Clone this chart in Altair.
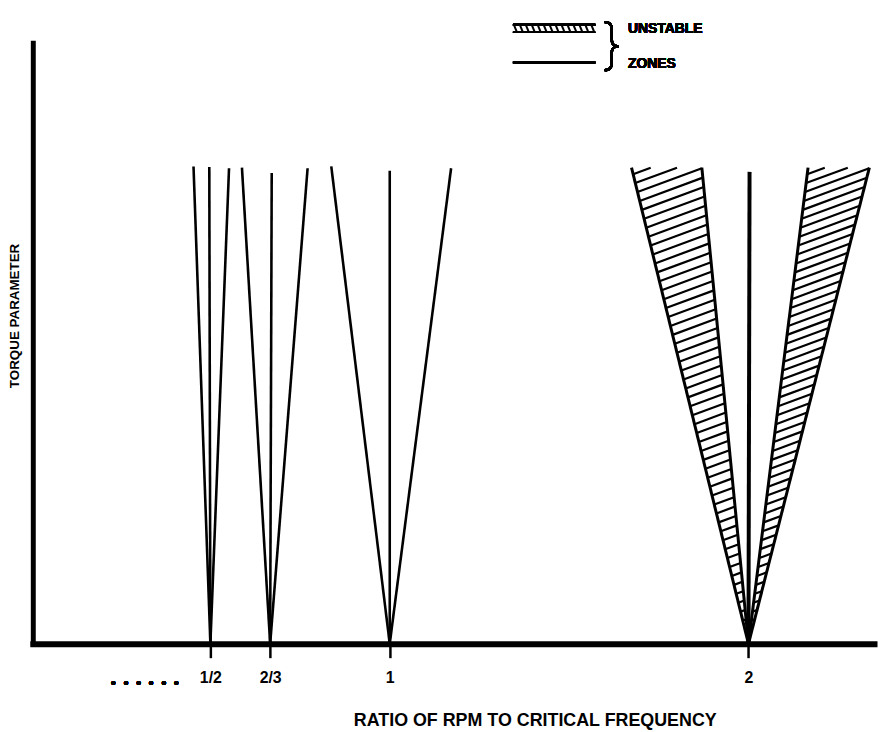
import altair as alt
import pandas as pd
import numpy as np

# ---------------- data ----------------
tick_values = [0.5, 2 / 3, 1.0, 2.0]
tick_labels = ["1/2", "2/3", "1", "2"]

# boundary lines of the instability zones: each starts at its apex on the axis
line_apex_x = [0.5, 0.5, 0.5, 2 / 3, 2 / 3, 2 / 3, 1.0, 1.0, 1.0, 2.0]
line_top_x = [0.453, 0.497, 0.552, 0.588, 0.671, 0.771, 0.837, 1.0, 1.171, 2.003]
line_top_y = [0.794, 0.793, 0.791, 0.792, 0.783, 0.791, 0.794, 0.787, 0.791, 0.785]

# hatched unstable wedges around ratio 2
wedge_apex_x = 2.0
wedge_left_top_x = [1.674, 2.166]
wedge_right_top_x = [1.870, 2.337]
wedge_top_y = 0.792

# ---------------- layout ----------------
X_MIN, X_MAX = 0.005, 2.35
W, H = 848, 606
PX_X = W / (X_MAX - X_MIN)
PX_Y = H / 1.0
FONT = "Liberation Sans"

lines = pd.DataFrame({
    "x": line_apex_x, "y": [0.0] * len(line_apex_x),
    "x2": line_top_x, "y2": line_top_y,
    "w": [2.6] * 9 + [4.0],
})
edges = pd.DataFrame({
    "x": [wedge_apex_x] * 4, "y": [0.0] * 4,
    "x2": wedge_left_top_x + wedge_right_top_x,
    "y2": [wedge_top_y] * 4,
    "w": [3.0] * 4,
})
lines = pd.concat([lines, edges], ignore_index=True)

# hatch strokes clipped to each wedge (derived from the wedge geometry)
hatch_slope_px = 0.37          # rise / run of hatch strokes in pixels
hatch_gap_px = 9.0             # vertical gap of strokes along the left edge
k = hatch_slope_px * PX_X / PX_Y
rows = []
for xl, xr in zip(wedge_left_top_x, wedge_right_top_x):
    al = (xl - wedge_apex_x) / wedge_top_y
    ar = (xr - wedge_apex_x) / wedge_top_y
    dc = (hatch_gap_px / PX_Y) * (1 - k * al)
    c = dc * 0.6
    while True:
        yl = c / (1 - k * al)
        if yl >= wedge_top_y:
            break
        yr = c / (1 - k * ar)
        x1 = wedge_apex_x + al * yl
        if yr <= wedge_top_y:
            x2, y2 = wedge_apex_x + ar * yr, yr
        else:
            y2 = wedge_top_y
            x2 = wedge_apex_x + (y2 - c) / k
        rows.append({"x": x1, "y": yl, "x2": x2, "y2": y2})
        c += dc
hatch = pd.DataFrame(rows)

xscale = alt.Scale(domain=[X_MIN, X_MAX], nice=False, zero=False)
yscale = alt.Scale(domain=[0, 1], nice=False, zero=False)

label_expr = " : ".join(
    f"abs(datum.value - {v}) < 0.001 ? '{t}'" for v, t in zip(tick_values, tick_labels)
) + " : ''"

x_axis = alt.Axis(
    values=tick_values, labelExpr=label_expr, grid=False,
    domainColor="black", domainWidth=6, domainCap="square",
    tickColor="black", tickWidth=2.5, tickSize=14,
    labelFont=FONT, labelFontWeight="bold", labelFontSize=16, labelColor="black",
    labelPadding=12,
    title="RATIO OF RPM TO CRITICAL FREQUENCY",
    titleFont=FONT, titleFontWeight="bold", titleFontSize=18, titleColor="black",
    titleX=506, titleY=82, titleAnchor="middle", titleAlign="center",
    titleBaseline="alphabetic",
)
y_axis = alt.Axis(
    grid=False, ticks=False, labels=False,
    domainColor="black", domainWidth=5, domainCap="square",
    title="TORQUE PARAMETER",
    titleFont=FONT, titleFontWeight="bold", titleFontSize=13.5, titleColor="black",
    titleX=-18, titleY=275, titleAngle=-90, titleAlign="center",
    titleBaseline="middle",
)

base_lines = alt.Chart(lines).mark_rule(color="black", strokeCap="butt").encode(
    x=alt.X("x:Q", scale=xscale, axis=x_axis),
    y=alt.Y("y:Q", scale=yscale, axis=y_axis),
    x2="x2:Q", y2="y2:Q",
    strokeWidth=alt.StrokeWidth("w:Q", scale=None),
)

hatch_layer = alt.Chart(hatch).mark_rule(color="black", strokeWidth=2.2).encode(
    x=alt.X("x:Q", scale=xscale), y=alt.Y("y:Q", scale=yscale),
    x2="x2:Q", y2="y2:Q",
)

# ---------------- legend (pixel positions relative to plot) ----------------
leg_x0, leg_x1 = 484, 567
n_strokes = 14
stroke_x = list(np.linspace(leg_x0 + 1, leg_x1 - 4, n_strokes))
leg_strokes = pd.DataFrame({
    "x": stroke_x, "x2": [v + 3 for v in stroke_x],
    "y": [-18.0] * n_strokes, "y2": [-10.5] * n_strokes,
})
leg_hatch = alt.Chart(leg_strokes).mark_rule(color="black", strokeWidth=2).encode(
    x=alt.X("x:Q", scale=None), x2="x2:Q",
    y=alt.Y("y:Q", scale=None), y2="y2:Q",
)
leg_top = alt.Chart(lines).mark_rule(color="black", strokeWidth=2.2).encode(
    x=alt.value(leg_x0), x2=alt.value(leg_x1), y=alt.value(-18), y2=alt.value(-18)
)
leg_bot = alt.Chart(lines).mark_rule(color="black", strokeWidth=1).encode(
    x=alt.value(leg_x0), x2=alt.value(leg_x1), y=alt.value(-10.5), y2=alt.value(-10.5)
)
leg_line = alt.Chart(lines).mark_rule(color="black", strokeWidth=2).encode(
    x=alt.value(leg_x0), x2=alt.value(leg_x1), y=alt.value(20), y2=alt.value(20)
)
brace = alt.Chart(lines).mark_text(
    text="}", font="Inter", fontWeight=200, fontSize=56, color="black",
    align="center", baseline="middle",
).encode(x=alt.value(584), y=alt.value(5))
leg_t1 = alt.Chart(lines).mark_text(
    text="UNSTABLE", font=FONT, fontWeight="bold", fontSize=14, color="black",
    align="left", baseline="middle",
).encode(x=alt.value(600), y=alt.value(-14))
leg_t2 = alt.Chart(lines).mark_text(
    text="ZONES", font=FONT, fontWeight="bold", fontSize=14, color="black",
    align="left", baseline="middle",
).encode(x=alt.value(600), y=alt.value(22))
dots = alt.Chart(lines).mark_text(
    text="• • • • • •", font="DejaVu Sans", fontSize=14, color="black",
    align="center", baseline="middle",
).encode(x=alt.value(113), y=alt.value(41 + H))

chart = alt.layer(
    base_lines, hatch_layer, leg_hatch, leg_top, leg_bot, leg_line,
    brace, leg_t1, leg_t2, dots,
).properties(
    width=W, height=H,
    background="white",
    autosize=alt.AutoSizeParams(type="none"),
    padding={"left": 25, "top": 32, "right": 4, "bottom": 84},
).configure_view(stroke=None)

chart.save("out.html", embed_options={"renderer": "svg", "actions": False})
